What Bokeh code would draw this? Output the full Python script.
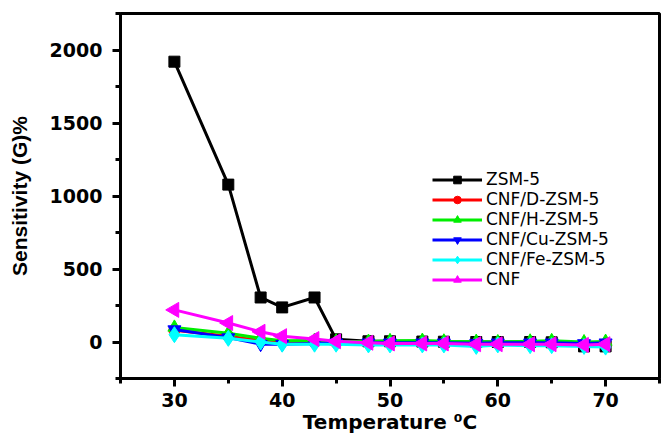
import math
from bokeh.plotting import figure
from bokeh.models import FixedTicker, Range1d, Legend, LegendItem, ColumnDataSource
from bokeh.embed import file_html
from bokeh.resources import INLINE

temperature = [30, 35, 38, 40, 43, 45, 48, 50, 53, 55, 58, 60, 63, 65, 68, 70]
zsm5 = [1920, 1078, 305, 237, 305, 18, 5, 5, 3, 2, 0, 0, 0, -2, -30, -30]
cnf_d_zsm5 = [80, 40, 10, 0, -5, -5, -5, -5, -8, -8, -10, -10, -10, -10, -15, -15]
cnf_h_zsm5 = [100, 60, 25, 8, 10, 5, 3, 8, 10, 5, 3, 0, 5, 8, 0, 3]
cnf_cu_zsm5 = [85, 30, -15, -15, -10, -5, -5, -5, -5, -5, -8, -5, -5, -5, -10, -5]
cnf_fe_zsm5 = [50, 25, 0, -15, -15, -15, -20, -20, -20, -20, -30, -20, -25, -25, -30, -35]
cnf = [220, 130, 70, 40, 20, 5, -5, -10, -10, -10, -15, -15, -15, -15, -20, -15]

x_ticks = [30, 40, 50, 60, 70]
x_minor = [25, 35, 45, 55, 65, 75]
y_ticks = [0, 500, 1000, 1500, 2000]
y_minor = [-250, 250, 750, 1250, 1750, 2250]
x_title = "Temperature \u2070C"
y_title = "Sensitivity (G)%"

series = [
    ("ZSM-5", zsm5, "black", "square", 11, 0.0),
    ("CNF/D-ZSM-5", cnf_d_zsm5, "red", "circle", 11, 0.0),
    ("CNF/H-ZSM-5", cnf_h_zsm5, "#00ee00", "triangle", 13, 0.0),
    ("CNF/Cu-ZSM-5", cnf_cu_zsm5, "blue", "inverted_triangle", 13, 0.0),
    ("CNF/Fe-ZSM-5", cnf_fe_zsm5, "cyan", "diamond", 16, 0.0),
    ("CNF", cnf, "magenta", "triangle", 15, math.pi / 2),
]

p = figure(width=661, height=436, output_backend="svg", toolbar_location=None,
           x_range=Range1d(25, 75), y_range=Range1d(-250, 2250),
           min_border_left=120, min_border_right=2, min_border_top=13, min_border_bottom=54)

p.xgrid.visible = False
p.ygrid.visible = False
p.outline_line_color = "black"
p.outline_line_width = 3
p.background_fill_color = "white"
p.border_fill_color = "white"

p.xaxis.ticker = FixedTicker(ticks=x_ticks, minor_ticks=x_minor)
p.yaxis.ticker = FixedTicker(ticks=y_ticks, minor_ticks=y_minor)

for ax in (p.xaxis, p.yaxis):
    ax.axis_line_width = 3
    ax.axis_line_color = "black"
    ax.major_tick_line_width = 3
    ax.minor_tick_line_width = 3
    ax.major_tick_out = 8
    ax.major_tick_in = 0
    ax.minor_tick_out = 5
    ax.minor_tick_in = 0
    ax.major_label_text_font = "DejaVu Sans"
    ax.major_label_text_font_style = "bold"
    ax.major_label_text_font_size = "19px"
    ax.major_label_text_color = "black"
    ax.axis_label_text_font_style = "bold"
    ax.axis_label_text_color = "black"

p.xaxis.axis_label = x_title
p.xaxis.axis_label_text_font = "DejaVu Sans"
p.xaxis.axis_label_text_font_size = "20px"
p.xaxis.major_label_standoff = 6
p.xaxis.axis_label_standoff = 0

p.yaxis.axis_label = y_title
p.yaxis.axis_label_text_font = "Liberation Sans"
p.yaxis.axis_label_text_font_size = "21px"
p.yaxis.major_label_standoff = 10
p.yaxis.axis_label_standoff = 16

items = []
for label, ys, color, marker, size, angle in series:
    src = ColumnDataSource(dict(x=temperature, y=ys, a=[angle] * len(ys)))
    l = p.line("x", "y", source=src, line_color=color, line_width=3)
    s = p.scatter("x", "y", source=src, marker=marker, size=size, angle="a",
                  fill_color=color, line_color=color)
    items.append(LegendItem(label=label, renderers=[l, s], index=0))

legend = Legend(items=items, location=(312, 89), padding=0, margin=0, spacing=-1,
                glyph_width=50, glyph_height=19, label_height=19, label_standoff=4,
                border_line_alpha=0, background_fill_alpha=0,
                label_text_font="DejaVu Sans", label_text_font_size="17px",
                label_text_color="black")
p.add_layout(legend)

open("out.html", "w").write(file_html(p, INLINE))
